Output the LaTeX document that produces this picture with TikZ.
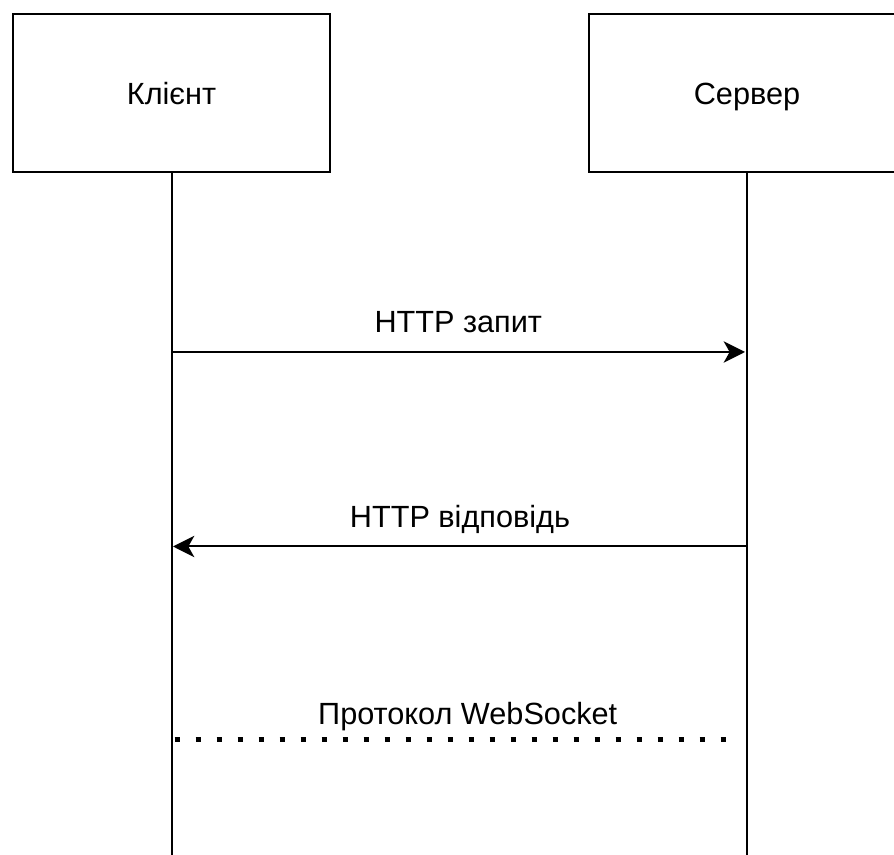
\documentclass[tikz,border=0pt]{standalone}
\usepackage{fontspec}
\setmainfont{Liberation Sans}
\usetikzlibrary{arrows.meta,positioning}
\tikzset {
  >={Stealth[length=16pt,width=16pt,inset=4.5pt]},
  every node/.style={font=\fontsize{23}{27}\selectfont},
}

\begin{document}
\begin{tikzpicture}[x=0.75pt,y=-0.75pt,line width=1.5pt,
    actor/.style={draw,minimum width=237.75pt,minimum height=118.5pt,inner sep=0pt,
      text height=21pt,text depth=3pt},
    msg/.style={pos=0.5,anchor=base,yshift=14.25pt}]
  \clip (0,0) rectangle (894,855);
  \node[actor] (client) at (171.5,93) {Клієнт};
  \node[actor] (server) at (747,93) {Сервер};
  % lifelines
  \coordinate (clientend) at (171.5,870);
  \coordinate (serverend) at (747,870);
  \draw (client.south) -- (clientend);
  \draw (server.south) -- (serverend);
  % messages
  \coordinate (reqfrom) at (171.5,352);
  \coordinate (reqto) at (745,352);
  \coordinate (respfrom) at (747,546.5);
  \coordinate (respto) at (173,546.5);
  \coordinate (wsfrom) at (174.5,740);
  \coordinate (wsto) at (729,740);
  \draw[->] (reqfrom) -- node[msg] (reqlabel) {HTTP запит} (reqto);
  \draw[->] (respfrom) -- node[msg] (resplabel) {HTTP відповідь} (respto);
  \draw[line width=3.75pt,dash pattern=on 3.75pt off 12pt] (wsfrom) -- node[msg,yshift=-2.6pt,xshift=12pt] (wslabel) {Протокол WebSocket} (wsto);
\end{tikzpicture}
\end{document}
